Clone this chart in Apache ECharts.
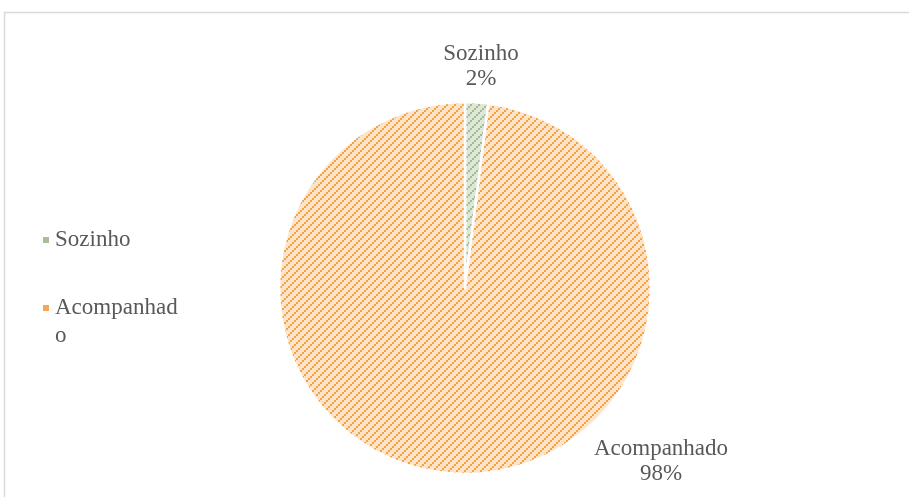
<!DOCTYPE html>
<html>
<head>
<meta charset="utf-8">
<script src="https://cdn.jsdelivr.net/npm/echarts@6/dist/echarts.min.js"></script>
<style>html,body{margin:0;padding:0;background:#fff}#c{width:909px;height:497px}</style>
</head>
<body>
<div id="c"></div>
<script>
const categories = ['Sozinho', 'Acompanhado'];
const values = [2, 98];
const dotColors = ['#a3bb93', '#f5a244'];
const bgColors = ['#dfe8d8', '#fde4c9'];
const legendColors = ['#a9bf9a', '#f5a658'];
const legendWrapAt = 10;

function makePattern(dot, bg) {
  const s = 8;
  const cv = document.createElement('canvas');
  cv.width = s; cv.height = s;
  const ctx = cv.getContext('2d');
  ctx.fillStyle = bg; ctx.fillRect(0, 0, s, s);
  ctx.fillStyle = dot;
  ctx.fillRect(0, 6, 2, 2);
  ctx.fillRect(2, 4, 2, 2);
  ctx.fillRect(4, 2, 2, 2);
  ctx.fillRect(6, 0, 2, 2);
  return { image: cv, repeat: 'repeat' };
}

const chart = echarts.init(document.getElementById('c'), null, { renderer: 'canvas' });
const font = 'Liberation Serif';
const labelPos = [[481, 66], [661, 461]];
const t = { fontFamily: font, fontSize: 23, color: '#595959', lineHeight: 28 };

chart.setOption({
  animation: false,
  textStyle: { fontFamily: font },
  color: legendColors,
  graphic: [{
    type: 'rect', shape: { x: 4.5, y: 12.5, width: 930, height: 500 },
    style: { fill: 'none', stroke: '#d9d9d9', lineWidth: 1.5 }, silent: true
  }],
  legend: {
    orient: 'vertical', left: 41, top: 226, padding: 0,
    itemWidth: 8, itemHeight: 8, itemGap: 12, icon: 'rect',
    formatter: name => name.length > legendWrapAt
      ? '{s| }\n{t|' + name.slice(0, legendWrapAt) + '}\n{t|' + name.slice(legendWrapAt) + '}'
      : '{t|' + name + '}',
    textStyle: {
      fontFamily: font, fontSize: 23, color: '#595959', lineHeight: 28,
      rich: { t: t, s: Object.assign({}, t) }
    },
    data: categories.map((c, i) => ({ name: c, itemStyle: { color: legendColors[i] } }))
  },
  series: [{
    type: 'pie',
    center: [465, 288],
    radius: 186,
    startAngle: 90,
    clockwise: true,
    avoidLabelOverlap: false,
    itemStyle: { borderColor: '#fff', borderWidth: 2.5 },
    label: {
      show: true, position: 'outside',
      formatter: p => p.name + '\n' + p.percent.toFixed(0) + '%',
      fontFamily: font, fontSize: 23, color: '#595959', lineHeight: 25, align: 'center'
    },
    labelLine: { show: false },
    labelLayout: p => ({ x: labelPos[p.dataIndex][0], y: labelPos[p.dataIndex][1], align: 'center', verticalAlign: 'middle' }),
    data: categories.map((c, i) => ({
      name: c, value: values[i],
      itemStyle: { color: makePattern(dotColors[i], bgColors[i]) }
    }))
  }]
});
</script>
</body>
</html>
